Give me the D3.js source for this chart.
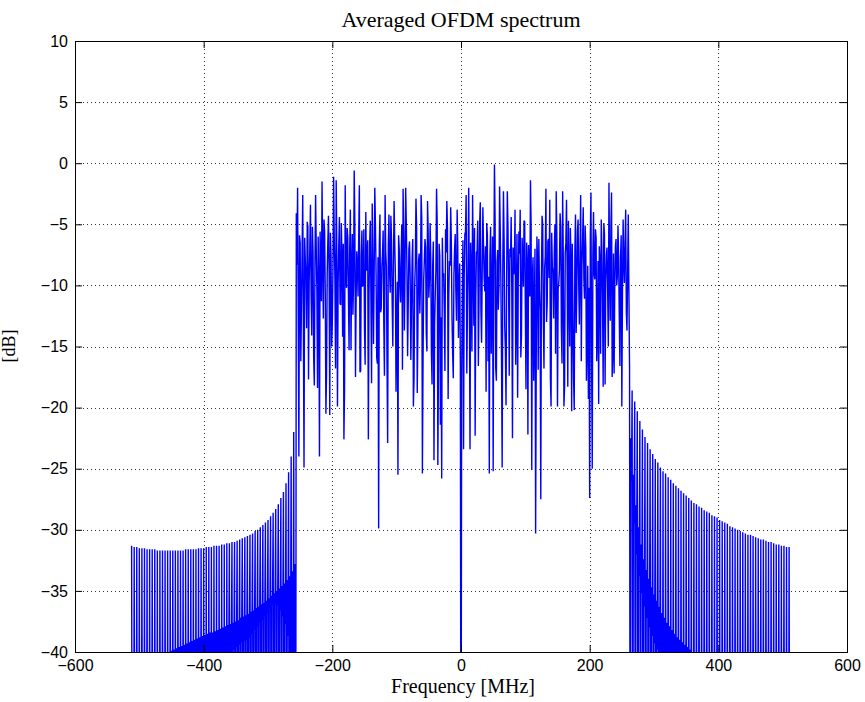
<!DOCTYPE html>
<html>
<head>
<meta charset="utf-8">
<script src="https://cdn.jsdelivr.net/npm/d3@7"></script>
<style>
  html, body { margin: 0; padding: 0; background: #fff; }
  svg { display: block; }
</style>
</head>
<body>
<div id="chart"></div>
<script>
// ticks
const xTicks = [-600, -400, -200, 0, 200, 400, 600];
const yTicks = [-40, -35, -30, -25, -20, -15, -10, -5, 0, 5, 10];

// below the axis floor, gets clipped
const floorDb = -60;

// left out-of-band: one bar every 4 MHz from -512, 4 samples per bar
const leftStart = -512;
const leftEnvDb = [
  -31.3, -31.4, -31.4, -31.5, -31.5, -31.5, -31.6, -31.6, -31.6, -31.6,
  -31.7, -31.7, -31.7, -31.7, -31.7, -31.7, -31.7, -31.7, -31.7, -31.7,
  -31.7, -31.6, -31.6, -31.6, -31.6, -31.6, -31.5, -31.5, -31.5, -31.4,
  -31.4, -31.4, -31.3, -31.3, -31.3, -31.2, -31.2, -31.1, -31.1, -31.0,
  -31.0, -30.9, -30.8, -30.7, -30.6, -30.5, -30.4, -30.3, -30.1, -30.0,
  -29.8, -29.6, -29.4, -29.2, -28.9, -28.6, -28.3, -27.9, -27.4, -26.9,
  -26.2, -25.3, -24.0, -22.0
];
const leftDiagDb = [
  -42.5, -42.4, -42.2, -42.0, -41.9, -41.7, -41.6, -41.4, -41.2, -41.0,
  -40.8, -40.6, -40.4, -40.2, -40.0, -39.9, -39.8, -39.7, -39.6, -39.5,
  -39.4, -39.3, -39.2, -39.1, -39.0, -38.9, -38.8, -38.7, -38.6, -38.5,
  -38.4, -38.4, -38.3, -38.2, -38.1, -38.0, -37.9, -37.8, -37.7, -37.6,
  -37.5, -37.4, -37.2, -37.1, -37.0, -36.9, -36.7, -36.6, -36.4, -36.3,
  -36.1, -36.0, -35.8, -35.6, -35.4, -35.2, -35.0, -34.8, -34.6, -34.4,
  -34.1, -33.8, -33.4, -32.8
];
const leftBumpStart = -361;
const leftBumpDb = [
  -40.3, -40.0, -39.8, -39.6, -39.4, -39.2, -39.1, -39.0, -38.8, -38.5,
  -38.2, -37.9, -37.6, -37.4, -37.1, -36.8, -36.4, -36.1, -36.0, -36.2,
  -36.6, -37.1, -37.7, -38.7, -40.0, -41.5
];

// occupied band: even MHz from -256, odd MHz from -255
const inStart = -256;
const inBandDb = [
  -4.1, -2.0, -24.0, -6.5, -11.8, -2.6, -24.9, -8.0, -13.5, -5.2,
  -9.7, -3.4, -14.1, -7.3, -18.2, -2.6, -10.4, -6.0, -24.0, -8.8,
  -1.5, -12.7, -5.6, -20.5, -9.1, -4.3, -20.6, -7.7, -13.0, -1.1,
  -9.4, -1.4, -19.9, -6.8, -11.5, -4.9, -14.2, -22.6, -1.8, -10.2,
  -6.1, -15.3, -3.8, -8.9, -12.4, -0.6, -17.5, -7.2, -10.9, -1.8,
  -17.0, -5.5, -9.8, -13.6, -4.0, -8.3, -22.6, -6.7, -11.2, -3.3,
  -14.8, -2.0, -9.0, -16.4, -29.9, -4.2, -11.9, -7.4, -13.1, -2.6,
  -8.5, -22.9, -4.2, -10.6, -6.3, -15.0, -3.1, -9.2, -12.8, -25.5,
  -7.0, -11.4, -5.0, -2.1, -13.7, -2.0, -8.8, -11.6, -6.4, -16.1,
  -7.9, -19.9, -10.1, -2.9, -18.8, -8.0, -12.3, -2.6, -25.4, -9.6,
  -6.2, -13.9, -3.1, -11.0, -4.9, -15.6, -8.4, -24.3, -10.7, -2.1,
  -24.7, -6.6, -21.4, -25.8, -9.3, -12.1, -5.4, -3.1, -19.3, -8.0,
  -3.6, -12.6, -17.6, -7.1, -10.4, -3.8, -14.3, -8.2, -60.0, -10.9,
  -23.4, -5.8, -2.6, -12.2, -2.0, -23.4, -9.0, -2.6, -13.3, -22.3,
  -7.3, -4.7, -11.0, -3.2, -14.7, -3.6, -9.4, -6.8, -4.9, -16.2,
  -25.4, -5.2, -10.8, -25.2, -0.1, -16.8, -8.1, -12.0, -1.9, -9.7,
  -24.9, -2.3, -13.4, -19.8, -2.3, -10.3, -7.0, -4.4, -22.5, -9.1,
  -3.8, -12.5, -19.2, -5.6, -3.8, -14.1, -8.0, -4.7, -11.8, -6.5,
  -22.2, -9.5, -1.4, -25.1, -7.7, -12.0, -30.3, -6.0, -16.9, -10.3,
  -27.5, -4.3, -13.0, -8.6, -2.1, -11.4, -6.2, -3.0, -19.9, -8.5,
  -12.7, -5.0, -2.3, -19.9, -9.8, -4.1, -13.5, -2.3, -19.9, -7.4,
  -3.0, -18.3, -9.9, -5.3, -20.3, -12.1, -20.2, -4.2, -10.7, -4.6,
  -13.2, -2.6, -8.4, -3.6, -11.1, -7.0, -14.6, -19.3, -27.4, -2.4,
  -25.0, -4.0, -9.5, -6.1, -13.8, -19.7, -8.2, -4.6, -11.3, -4.9,
  -18.1, -7.5, -10.6, -1.6, -12.9, -2.4, -15.4, -17.2, -6.8, -10.0,
  -5.1, -12.4, -7.7, -19.9, -4.6, -9.8, -3.8, -13.7, -4.2
];
const inBandOddDb = [
  -8.3, -12.6, -5.9, -16.2, -7.4, -13.8, -6.1, -9.5, -4.8, -17.7,
  -6.9, -10.8, -5.2, -15.9, -8.1, -7.0, -18.4, -9.8, -5.6, -11.3,
  -7.8, -4.6, -10.5, -17.2, -6.4, -9.1, -5.7, -15.0, -8.6, -6.2,
  -16.8, -7.3, -9.9, -4.4, -11.6, -8.0, -6.6, -18.5, -9.2, -5.3,
  -10.7, -7.1, -15.3, -5.8, -9.6, -4.9, -11.0, -8.4, -6.0, -17.1,
  -7.6, -10.1, -5.4, -16.5, -8.8, -6.3, -10.9, -4.7, -18.0, -7.9,
  -9.3, -5.1, -15.9, -7.7, -6.8, -12.2, -8.5, -5.5, -17.4, -7.2,
  -16.3, -6.7, -9.0, -4.3, -11.4, -8.2, -6.5, -18.7, -9.7, -5.9,
  -10.0, -7.5, -16.9, -6.0, -8.9, -5.0, -15.8, -7.0, -9.4, -12.1,
  -6.2, -17.6, -8.3, -5.2, -13.6, -7.4, -9.8, -4.5, -16.2, -8.0,
  -6.9, -15.4, -5.7, -9.5, -7.8, -18.1, -6.4, -13.2, -8.7, -5.0,
  -16.3, -7.6, -12.6, -6.1, -9.0, -17.0, -7.3, -5.4, -10.8, -8.4,
  -6.6, -15.5, -9.1, -5.8, -12.9, -7.0, -10.2, -16.5, -18.0, -6.3,
  -9.2, -5.6, -17.2, -7.9, -10.7, -6.5, -15.4, -8.1, -5.3, -11.0,
  -7.2, -16.6, -4.9, -12.0, -8.6, -6.8, -10.5, -18.7, -5.9, -9.3,
  -7.5, -15.6, -6.0, -8.8, -4.6, -17.8, -7.1, -10.0, -5.5, -16.1,
  -8.2, -6.3, -15.3, -9.0, -5.1, -17.4, -7.7, -10.6, -6.9, -8.5,
  -16.5, -5.8, -9.7, -7.4, -15.9, -6.1, -10.1, -4.8, -18.5, -8.3,
  -6.7, -10.9, -5.3, -9.2, -17.8, -7.0, -15.5, -8.0, -6.2, -12.1,
  -9.6, -5.0, -16.8, -7.6, -13.0, -6.4, -9.4, -17.7, -5.7, -8.9,
  -7.3, -15.6, -6.0, -10.3, -8.7, -5.2, -16.4, -7.8, -18.3, -6.5,
  -9.0, -4.7, -15.0, -8.1, -6.6, -17.7, -7.2, -13.9, -5.6, -9.9,
  -7.9, -16.2, -6.3, -9.5, -5.1, -17.8, -8.4, -10.2, -6.0, -15.8,
  -7.5, -9.1, -5.4, -16.2, -8.0, -6.8, -15.6, -7.1, -18.3, -5.8,
  -9.7, -6.9, -15.0, -8.6, -5.3, -17.5, -7.4, -10.1, -6.2, -9.3,
  -7.7, -16.6, -5.9, -10.4, -8.1, -6.6, -12.2, -9.0
];

// right out-of-band: one bar every 4 MHz from 262
const rightStart = 262;
const rightEnvDb = [
  -16.8, -18.6, -19.5, -20.3, -21.1, -21.8, -22.4, -22.9, -23.4, -23.8,
  -24.2, -24.5, -24.9, -25.2, -25.4, -25.7, -25.9, -26.2, -26.4, -26.6,
  -26.8, -27.0, -27.2, -27.4, -27.6, -27.8, -27.9, -28.1, -28.2, -28.4,
  -28.5, -28.6, -28.8, -28.9, -29.0, -29.2, -29.3, -29.4, -29.5, -29.7,
  -29.8, -29.9, -30.0, -30.1, -30.2, -30.3, -30.4, -30.4, -30.5, -30.6,
  -30.7, -30.8, -30.8, -30.9, -31.0, -31.0, -31.1, -31.2, -31.2, -31.3,
  -31.3, -31.4, -31.4
];
const rightInnerADb = [
  -22.5, -25.5, -28.0, -29.8, -31.2, -32.4, -33.3, -34.0, -34.7, -35.3,
  -35.8, -36.3, -36.8, -37.2, -37.6, -37.9, -38.2, -38.5, -38.8, -39.0,
  -39.2, -39.4, -39.6, -39.8, -40.0, -40.3, -40.6
];
const rightInnerBDb = [
  -26.0, -29.5, -32.0, -33.8, -35.2, -36.3, -37.2, -38.0, -38.7, -39.3,
  -39.8, -40.3
];

function renderSpectrum(containerId) {
  const W = 865, H = 702;
  const margin = {top: 41, right: 18, bottom: 50, left: 75};
  const width = W - margin.left - margin.right;
  const height = H - margin.top - margin.bottom;

  // assemble samples [MHz, dB]
  const pts = [];
  leftEnvDb.forEach((v, i) => {
    const f = leftStart + 4 * i;
    const j = (f + 3 - leftBumpStart) / 4;
    const bump = (j >= 0 && j < leftBumpDb.length) ? leftBumpDb[j] : floorDb;
    pts.push([f, v], [f + 1, floorDb], [f + 2, leftDiagDb[i]], [f + 3, bump]);
  });
  inBandDb.forEach((v, i) => {
    pts.push([inStart + 2 * i, v]);
    if (i < inBandOddDb.length) pts.push([inStart + 2 * i + 1, inBandOddDb[i]]);
  });
  rightEnvDb.forEach((v, i) => {
    const f = rightStart + 4 * i;
    const a = i < rightInnerADb.length ? rightInnerADb[i] : floorDb;
    const b = i < rightInnerBDb.length ? rightInnerBDb[i] : floorDb;
    pts.push([f, v], [f + 1, floorDb], [f + 2, a], [f + 3, b]);
  });

  const svg = d3.select(`#${containerId}`).append("svg")
    .attr("width", W).attr("height", H);

  const g = svg.append("g")
    .attr("transform", `translate(${margin.left},${margin.top})`);

  const x = d3.scaleLinear().domain([-600, 600]).range([0, width]);
  const y = d3.scaleLinear().domain([-40, 10]).range([height, 0]);

  svg.append("defs").append("clipPath").attr("id", "plot-clip")
    .append("rect").attr("width", width).attr("height", height);

  // dotted grid
  const grid = g.append("g").attr("class", "grid")
    .attr("stroke", "#333").attr("stroke-width", 1).attr("stroke-dasharray", "1,3");
  grid.selectAll("line.gx").data(xTicks.slice(1, -1)).join("line")
    .attr("x1", d => Math.round(x(d)) + 0.5).attr("x2", d => Math.round(x(d)) + 0.5)
    .attr("y1", 0).attr("y2", height);
  grid.selectAll("line.gy").data(yTicks.slice(1, -1)).join("line")
    .attr("y1", d => Math.round(y(d)) + 0.5).attr("y2", d => Math.round(y(d)) + 0.5)
    .attr("x1", 0).attr("x2", width);

  // spectrum
  const line = d3.line().x(d => x(d[0])).y(d => y(d[1]));
  g.append("path")
    .datum(pts)
    .attr("clip-path", "url(#plot-clip)")
    .attr("fill", "none")
    .attr("stroke", "#0000ff")
    .attr("stroke-width", 1.4)
    .attr("stroke-linejoin", "bevel")
    .attr("d", line);

  // axes, inward ticks on all four sides
  const tickLen = 7;
  const fmt = d3.format("d");
  const styleAxis = sel => {
    sel.select(".domain").remove();
    sel.selectAll("line").attr("stroke", "#000");
    sel.selectAll("text")
      .attr("fill", "#000")
      .style("font-family", "'Liberation Sans', Arial, sans-serif")
      .style("font-size", "16px");
  };

  g.append("g").attr("transform", `translate(0,${height})`)
    .call(d3.axisBottom(x).tickValues(xTicks).tickFormat(fmt)
      .tickSizeInner(-tickLen).tickSizeOuter(0).tickPadding(8))
    .call(styleAxis);
  g.append("g")
    .call(d3.axisTop(x).tickValues(xTicks).tickFormat("")
      .tickSizeInner(-tickLen).tickSizeOuter(0))
    .call(styleAxis);
  g.append("g")
    .call(d3.axisLeft(y).tickValues(yTicks).tickFormat(fmt)
      .tickSizeInner(-tickLen).tickSizeOuter(0).tickPadding(7))
    .call(styleAxis);
  g.append("g").attr("transform", `translate(${width},0)`)
    .call(d3.axisRight(y).tickValues(yTicks).tickFormat("")
      .tickSizeInner(-tickLen).tickSizeOuter(0))
    .call(styleAxis);

  g.append("rect")
    .attr("x", 0.5).attr("y", 0.5)
    .attr("width", width).attr("height", height)
    .attr("fill", "none").attr("stroke", "#000").attr("stroke-width", 1);

  const serif = "'Liberation Serif', 'Times New Roman', serif";

  svg.append("text")
    .attr("x", 461).attr("y", 27)
    .attr("text-anchor", "middle")
    .style("font-family", serif).style("font-size", "22px")
    .text("Averaged OFDM spectrum");

  svg.append("text")
    .attr("x", 463).attr("y", 693)
    .attr("text-anchor", "middle")
    .style("font-family", serif).style("font-size", "20px")
    .text("Frequency [MHz]");

  svg.append("text")
    .attr("transform", "translate(15,346) rotate(-90)")
    .attr("text-anchor", "middle")
    .style("font-family", serif).style("font-size", "18px")
    .text("[dB]");
}

renderSpectrum("chart");
</script>
</body>
</html>
